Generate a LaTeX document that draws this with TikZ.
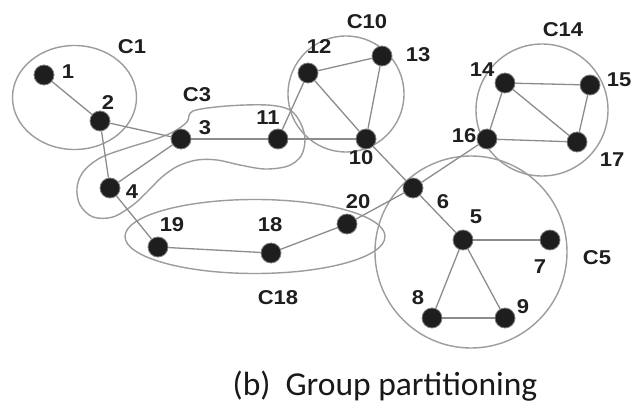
\documentclass[tikz,border=0pt]{standalone}
\usepackage{fontspec}
\usetikzlibrary{backgrounds}
\newfontfamily\lblfont{Liberation Sans}[FakeStretch=1.1]
\newfontfamily\capfont{Carlito}
\definecolor{edgegray}{HTML}{8C8C8C}
\definecolor{ringgray}{HTML}{9C9C9C}
\definecolor{dotfill}{HTML}{1E1E1E}
\begin{document}
\begin{tikzpicture}[x=1pt,y=-1pt,
  vertex/.style={circle,fill=dotfill,draw=gray,line width=0.8pt,minimum size=20pt,inner sep=0pt},
  link/.style={draw=edgegray,line width=1.3pt},
  ring/.style={draw=ringgray,line width=1.4pt},
  lbl/.style={font=\lblfont\bfseries\fontsize{20}{20}\selectfont,inner sep=0pt,text=black!88}]
\useasboundingbox (0,0) rectangle (639,403);

% vertices
\node[vertex] (n1)  at (44,75)  {};
\node[vertex] (n2)  at (100,121) {};
\node[vertex] (n3)  at (181,139) {};
\node[vertex] (n4)  at (110,188) {};
\node[vertex] (n11) at (278,139) {};
\node[vertex] (n12) at (308,73)  {};
\node[vertex] (n13) at (382,56)  {};
\node[vertex] (n10) at (366,139) {};
\node[vertex] (n14) at (505,83)  {};
\node[vertex] (n15) at (590,85)  {};
\node[vertex] (n16) at (487,139) {};
\node[vertex] (n17) at (577,142) {};
\node[vertex] (n6)  at (413,188) {};
\node[vertex] (n5)  at (463,240) {};
\node[vertex] (n7)  at (550,240) {};
\node[vertex] (n8)  at (432,318) {};
\node[vertex] (n9)  at (505,318) {};
\node[vertex] (n20) at (347,224) {};
\node[vertex] (n19) at (158,247) {};
\node[vertex] (n18) at (271,253) {};

% vertex labels
\node[lbl] (t1)  at (68,72)   {1};
\node[lbl] (t2)  at (108,103) {2};
\node[lbl] (t3)  at (205,128) {3};
\node[lbl] (t4)  at (132,192) {4};
\node[lbl] (t11) at (268,118) {11};
\node[lbl] (t12) at (319,47)  {12};
\node[lbl] (t13) at (418,55)  {13};
\node[lbl] (t10) at (361,158) {10};
\node[lbl] (t14) at (482,70)  {14};
\node[lbl] (t15) at (619,80)  {15};
\node[lbl] (t16) at (464,136) {16};
\node[lbl] (t17) at (612,160) {17};
\node[lbl] (t6)  at (443,202) {6};
\node[lbl] (t5)  at (476,217) {5};
\node[lbl] (t7)  at (540,267) {7};
\node[lbl] (t8)  at (418,298) {8};
\node[lbl] (t9)  at (523,307) {9};
\node[lbl] (t20) at (358,202) {20};
\node[lbl] (t19) at (172,225) {19};
\node[lbl] (t18) at (270,225) {18};

% cluster labels
\node[lbl] (c1)  at (132,47)  {C1};
\node[lbl] (c3)  at (197,95)  {C3};
\node[lbl] (c10) at (367,22)  {C10};
\node[lbl] (c14) at (563,30)  {C14};
\node[lbl] (c5)  at (597,258) {C5};
\node[lbl] (c18) at (278,298) {C18};

% caption
\node[font=\capfont\fontsize{33.5}{33.5}\selectfont,anchor=base,inner sep=0pt,text=black!90] (cap)
  at (385,395) {(b)\hspace{0.45em}Group partitioning};

\begin{scope}[on background layer]
  \fill[white] (0,0) rectangle (639,403);
  % cluster outlines
  \draw[ring] (74.5,97.5) ellipse [x radius=62, y radius=52];
  \draw[ring] (346,94) circle [radius=58];
  \draw[ring] (542,110) circle [radius=66];
  \draw[ring] (471,252) circle [radius=96];
  \draw[ring] (255,236.5) ellipse [x radius=130, y radius=37];
  \draw[ring] plot[smooth cycle, tension=0.55] coordinates {
    (193,111) (227,106) (267,105) (290,110) (301,124) (305,140) (301,156)
    (288,166) (265,169) (240,165) (217,160) (197,160) (178,166) (162,177)
    (147,192) (133,205) (113,217) (93,217) (80,205) (77,188) (83,172)
    (100,158) (127,148) (153,140) (173,132) (187,122)};
  % edges
  \draw[link] (n1) -- (n2);
  \draw[link] (n2) -- (n3);
  \draw[link] (n2) -- (n4);
  \draw[link] (n3) -- (n4);
  \draw[link] (n3) -- (n11);
  \draw[link] (n11) -- (n10);
  \draw[link] (n11) -- (n12);
  \draw[link] (n12) -- (n13);
  \draw[link] (n12) -- (n10);
  \draw[link] (n13) -- (n10);
  \draw[link] (n10) -- (n6);
  \draw[link] (n6) -- (n16);
  \draw[link] (n6) -- (n20);
  \draw[link] (n6) -- (n5);
  \draw[link] (n16) -- (n14);
  \draw[link] (n16) -- (n17);
  \draw[link] (n14) -- (n15);
  \draw[link] (n14) -- (n17);
  \draw[link] (n15) -- (n17);
  \draw[link] (n5) -- (n7);
  \draw[link] (n5) -- (n8);
  \draw[link] (n5) -- (n9);
  \draw[link] (n8) -- (n9);
  \draw[link] (n4) -- (n19);
  \draw[link] (n19) -- (n18);
  \draw[link] (n18) -- (n20);
\end{scope}
\end{tikzpicture}
\end{document}
